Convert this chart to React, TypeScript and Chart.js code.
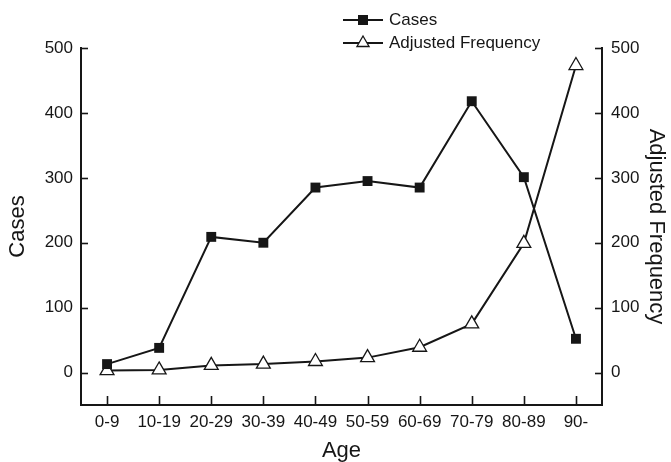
import React, { useEffect, useRef } from "react";
import { Chart, registerables } from "chart.js";

Chart.register(...registerables);

const categories = ["0-9", "10-19", "20-29", "30-39", "40-49", "50-59", "60-69", "70-79", "80-89", "90-"];
const casesValues = [13, 38, 209, 200, 285, 295, 285, 418, 301, 52];
const adjustedValues = [3, 4, 11, 13, 17, 23, 39, 75, 199, 473];
const yTickValues = [0, 100, 200, 300, 400, 500];

const INK = "#161616";
const FONT = "'Liberation Sans', Arial, sans-serif";

const inwardTicks = {
  id: "inwardTicks",
  afterDraw(chart: any) {
    const ctx = chart.ctx;
    const { left, right, bottom } = chart.chartArea;
    ctx.save();
    ctx.strokeStyle = INK;
    ctx.lineWidth = 1.6;
    const y = chart.scales.y;
    const y1 = chart.scales.y1;
    const x = chart.scales.x;
    y.ticks.forEach((_t: any, i: number) => {
      const p = Math.round(y.getPixelForTick(i)) + 0.5;
      ctx.beginPath();
      ctx.moveTo(left, p);
      ctx.lineTo(left + 7, p);
      ctx.stroke();
    });
    y1.ticks.forEach((_t: any, i: number) => {
      const p = Math.round(y1.getPixelForTick(i)) + 0.5;
      ctx.beginPath();
      ctx.moveTo(right, p);
      ctx.lineTo(right - 7, p);
      ctx.stroke();
    });
    x.ticks.forEach((_t: any, i: number) => {
      const p = Math.round(x.getPixelForTick(i)) + 0.5;
      ctx.beginPath();
      ctx.moveTo(p, bottom);
      ctx.lineTo(p, bottom - 9);
      ctx.stroke();
    });
    ctx.restore();
  },
};

const customLegend = {
  id: "customLegend",
  afterDraw(chart: any) {
    const ctx = chart.ctx;
    const ds = chart.data.datasets;
    const x0 = 343;
    const x1 = 383;
    const xm = (x0 + x1) / 2;
    const rows = [20, 43];
    ctx.save();
    ds.forEach((d: any, i: number) => {
      const yy = rows[i];
      ctx.strokeStyle = INK;
      ctx.lineWidth = 2;
      ctx.beginPath();
      ctx.moveTo(x0, yy);
      ctx.lineTo(x1, yy);
      ctx.stroke();
      if (d.pointStyle === "rect") {
        ctx.fillStyle = INK;
        ctx.fillRect(xm - 5, yy - 5, 10, 10);
      } else {
        const r = 7;
        ctx.fillStyle = "#fff";
        ctx.lineWidth = 1.3;
        ctx.beginPath();
        ctx.moveTo(xm, yy - r);
        ctx.lineTo(xm + r * 0.866, yy + r / 2);
        ctx.lineTo(xm - r * 0.866, yy + r / 2);
        ctx.closePath();
        ctx.fill();
        ctx.stroke();
      }
      ctx.fillStyle = INK;
      ctx.font = `17px ${FONT}`;
      ctx.textBaseline = "middle";
      ctx.textAlign = "left";
      ctx.fillText(d.label, 389, yy);
    });
    ctx.restore();
  },
};

export default function App() {
  const ref = useRef<HTMLCanvasElement | null>(null);
  useEffect(() => {
    if (!ref.current) return;
    const chart = new Chart(ref.current, {
      type: "line",
      data: {
        labels: categories,
        datasets: [
          {
            label: "Cases",
            data: casesValues,
            yAxisID: "y",
            borderColor: INK,
            borderWidth: 2,
            backgroundColor: INK,
            pointStyle: "rect",
            pointRadius: 7,
            pointBorderWidth: 0,
            pointBackgroundColor: INK,
            pointBorderColor: INK,
            tension: 0,
            clip: false as any,
          },
          {
            label: "Adjusted Frequency",
            data: adjustedValues,
            yAxisID: "y1",
            borderColor: INK,
            borderWidth: 2,
            backgroundColor: "#fff",
            pointStyle: "triangle",
            pointRadius: 8,
            pointBorderWidth: 1.3,
            pointBackgroundColor: "#fff",
            pointBorderColor: INK,
            tension: 0,
            clip: false as any,
          },
        ],
      },
      options: {
        responsive: false,
        animation: false,
        layout: { padding: { top: 48, left: 0, right: 0, bottom: 0 } },
        plugins: { legend: { display: false }, tooltip: { enabled: false } },
        scales: {
          x: {
            type: "category",
            offset: true,
            grid: { display: false, drawTicks: false },
            border: { display: true, color: INK, width: 2 },
            ticks: { color: INK, font: { family: FONT, size: 17 }, padding: 7, maxRotation: 0, autoSkip: false },
            title: { display: true, text: "Age", color: INK, font: { family: FONT, size: 22, lineHeight: 1 }, padding: 0 },
            afterFit(s: any) { s.height = 57; },
          },
          y: {
            type: "linear",
            position: "left",
            min: -50,
            max: 500,
            grid: { display: false, drawTicks: false },
            border: { display: true, color: INK, width: 2 },
            ticks: { color: INK, font: { family: FONT, size: 17 }, padding: 8 },
            afterBuildTicks(s: any) { s.ticks = yTickValues.map((v) => ({ value: v })); },
            title: { display: true, text: "Cases", color: INK, font: { family: FONT, size: 22 }, padding: { top: 5, bottom: 0 } },
            afterFit(s: any) { s.width = 81; },
          },
          y1: {
            type: "linear",
            position: "right",
            min: -50,
            max: 500,
            grid: { display: false, drawTicks: false },
            border: { display: true, color: INK, width: 2 },
            ticks: { color: INK, font: { family: FONT, size: 17 }, padding: 9 },
            afterBuildTicks(s: any) { s.ticks = yTickValues.map((v) => ({ value: v })); },
            title: { display: true, text: "Adjusted Frequency", color: INK, font: { family: FONT, size: 22 }, padding: { top: 2, bottom: 0 } },
            afterFit(s: any) { s.width = 69; },
          },
        },
      },
      plugins: [inwardTicks, customLegend],
    });
    return () => chart.destroy();
  }, []);
  return (
    <div style={{ position: "fixed", left: 0, top: 0, width: 671, height: 462, background: "#fff" }}>
      <canvas ref={ref} width={671} height={462} style={{ width: 671, height: 462, display: "block" }} />
    </div>
  );
}
